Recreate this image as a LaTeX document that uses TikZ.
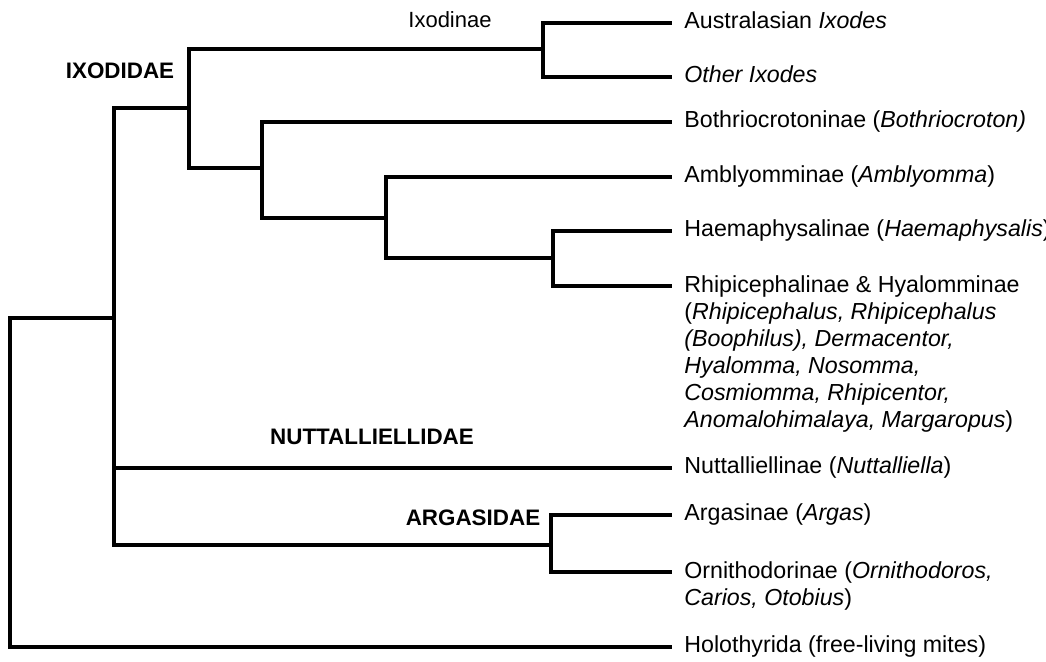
\documentclass[tikz,border=0pt]{standalone}
\usepackage{fontspec}
\setmainfont{Liberation Sans}
\tikzset{
  branch/.style={line width=1.7pt, line cap=rect},
  leaf/.style={anchor=west, inner xsep=7pt, inner ysep=0pt, text height=8.5pt, text depth=2.5pt, font=\fontsize{11.6}{13.5}\selectfont},
  leafblock/.style={anchor=north west, align=left, inner xsep=7pt, inner ysep=0pt, font=\fontsize{11.6}{13.5}\selectfont},
  familylabel/.style={font=\fontsize{11.2}{13}\selectfont\bfseries},
  subfamilylabel/.style={font=\fontsize{11}{13}\selectfont}
}

\begin{document}
\begin{tikzpicture}[x=0.5pt, y=-0.5pt]
  \useasboundingbox (0,0) rectangle (1046,662);

  % Internal nodes of the tree
  \coordinate (root) at (10,318);
  \coordinate (ticks) at (114,318);
  \coordinate (ixodidae) at (189,108);
  \coordinate (ixodinae) at (543,49);
  \coordinate (metastriata) at (262,168);
  \coordinate (amblynode) at (386,218);
  \coordinate (haemanode) at (553,258);
  \coordinate (argasidae) at (551,545);
  \coordinate (rhipiend) at (670,286);

  % Leaves
  \node[leaf] (austral) at (670,23) {Australasian \textit{Ixodes}};
  \node[leaf] (otherix) at (670,77) {\textit{Other Ixodes}};
  \node[leaf] (bothrio) at (670,122) {Bothriocrotoninae (\textit{Bothriocroton)}};
  \node[leaf] (amblyomma) at (670,177) {Amblyomminae (\textit{Amblyomma})};
  \node[leaf] (haemaphys) at (670,231) {Haemaphysalinae (\textit{Haemaphysalis})};
  \node[leafblock] (rhipi) at (670,275) {Rhipicephalinae \& Hyalomminae\\
    (\textit{Rhipicephalus, Rhipicephalus}\\
    \textit{(Boophilus), Dermacentor,}\\
    \textit{Hyalomma, Nosomma,}\\
    \textit{Cosmiomma, Rhipicentor,}\\
    \textit{Anomalohimalaya, Margaropus})};
  \node[leaf] (nuttall) at (670,468) {Nuttalliellinae (\textit{Nuttalliella})};
  \node[leaf] (argasinae) at (670,515) {Argasinae (\textit{Argas})};
  \node[leafblock] (ornitho) at (670,561) {Ornithodorinae (\textit{Ornithodoros,}\\
    \textit{Carios, Otobius})};
  \coordinate (ornithoend) at (670,572);
  \node[leaf] (holo) at (670,647) {Holothyrida (free-living mites)};

  % Clade labels
  \node[subfamilylabel] (lblixodinae) at (450,20) {Ixodinae};
  \node[familylabel] (lblixodidae) at (120,71) {IXODIDAE};
  \node[familylabel] (lblnuttall) at (372,437) {NUTTALLIELLIDAE};
  \node[familylabel] (lblargas) at (473,518) {ARGASIDAE};

  % Branches
  \draw[branch] (root) |- (ticks);
  \draw[branch] (root) |- (holo.west);
  \draw[branch] (ticks) |- (ixodidae);
  \draw[branch] (ticks) |- (nuttall.west);
  \draw[branch] (ticks) |- (argasidae);
  \draw[branch] (ixodidae) |- (ixodinae);
  \draw[branch] (ixodidae) |- (metastriata);
  \draw[branch] (ixodinae) |- (austral.west);
  \draw[branch] (ixodinae) |- (otherix.west);
  \draw[branch] (metastriata) |- (bothrio.west);
  \draw[branch] (metastriata) |- (amblynode);
  \draw[branch] (amblynode) |- (amblyomma.west);
  \draw[branch] (amblynode) |- (haemanode);
  \draw[branch] (haemanode) |- (haemaphys.west);
  \draw[branch] (haemanode) |- (rhipiend);
  \draw[branch] (argasidae) |- (argasinae.west);
  \draw[branch] (argasidae) |- (ornithoend);
\end{tikzpicture}
\end{document}
